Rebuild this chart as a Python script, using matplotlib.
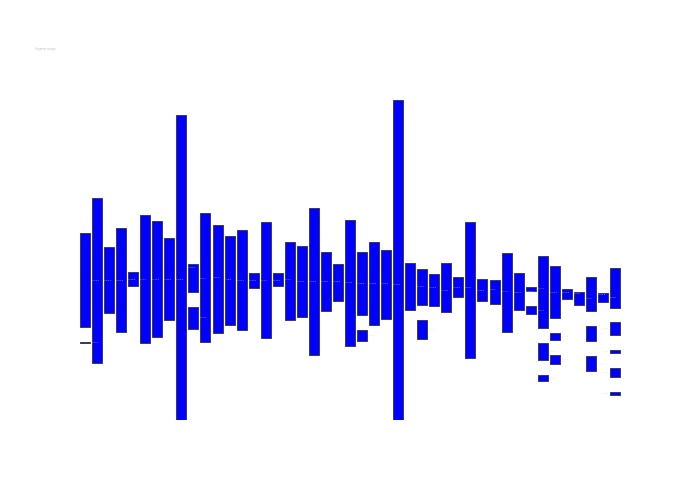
import matplotlib
matplotlib.use("Agg")
import matplotlib.pyplot as plt

# main range per slot (low, high), 45 slots left to right
main_low = [29.2, 17.9, 33.3, 27.6, 41.8, 24.0, 25.8, 31.3, 0.0, 40.0,
            24.3, 27.1, 29.8, 28.1, 41.3, 25.6, 41.8, 31.3, 32.1, 20.2,
            34.1, 37.3, 23.0, 32.7, 29.6, 31.7, 0.0, 34.5, 35.9, 35.5,
            33.8, 38.4, 19.4, 37.2, 36.3, 27.5, 34.3, 40.3, 28.8, 31.8,
            37.8, 35.8, 34.1, 36.8, 35.0]
main_high = [58.3, 69.3, 54.2, 60.1, 46.2, 64.0, 62.1, 56.8, 95.2, 48.7,
             64.6, 61.0, 57.5, 59.3, 46.0, 61.8, 45.9, 55.5, 54.4, 66.3,
             52.4, 48.8, 62.6, 52.6, 55.7, 53.1, 100.0, 49.2, 47.1, 45.5,
             49.0, 44.7, 61.8, 44.1, 43.8, 52.2, 46.0, 41.7, 51.2, 48.1,
             41.0, 39.9, 44.6, 39.6, 47.4]

# extra, detached segments below some of the slots
extra_slot = [0, 9, 23, 28, 37, 38, 38, 39, 39, 42, 42, 44, 44, 44, 44]
extra_low = [24.0, 28.5, 24.7, 25.2, 33.0, 18.6, 12.1, 24.9, 17.5,
             24.7, 15.3, 26.5, 20.8, 13.3, 7.9]
extra_high = [24.3, 35.3, 28.1, 31.3, 35.7, 24.0, 14.0, 27.1, 20.2,
              29.4, 20.0, 30.5, 21.9, 16.3, 8.8]

title = "Segment ranges"

slots = list(range(len(main_low)))
seg_x = slots + extra_slot
seg_lo = main_low + extra_low
seg_hi = main_high + extra_high

fig = plt.figure(figsize=(7, 5), dpi=100)
ax = fig.add_axes([79 / 700, 80 / 500, 542 / 700, 320 / 500])

width = 0.83
heights = [h - l for l, h in zip(seg_lo, seg_hi)]
ax.bar(seg_x, heights, bottom=seg_lo, width=width, color="#0000ff",
       edgecolor="#3a3a5a", linewidth=0.7, zorder=2)

# tiny range label at the middle of each segment
last = max(slots)
for x, lo, hi, h in zip(seg_x, seg_lo, seg_hi, heights):
    mid = (lo + hi) / 2
    label = f"Δ {h:.1f}"
    if x == last:
        ax.text(x - 0.58, mid, label, ha="right", va="center",
                fontsize=1.6, color="#cfcfd6", zorder=3)
    else:
        ax.text(x + 0.58, mid, label, ha="left", va="center",
                fontsize=1.6, color="#cfcfd6", zorder=3)

ax.set_xlim(-0.5, last + 0.5)
ax.set_ylim(0, 100)
ax.axis("off")

fig.text(35 / 700, 1 - 49 / 500, title, fontsize=1.8, color="#bdbdc4",
         ha="left", va="center")

fig.savefig("out.png", dpi=100, facecolor="white")
